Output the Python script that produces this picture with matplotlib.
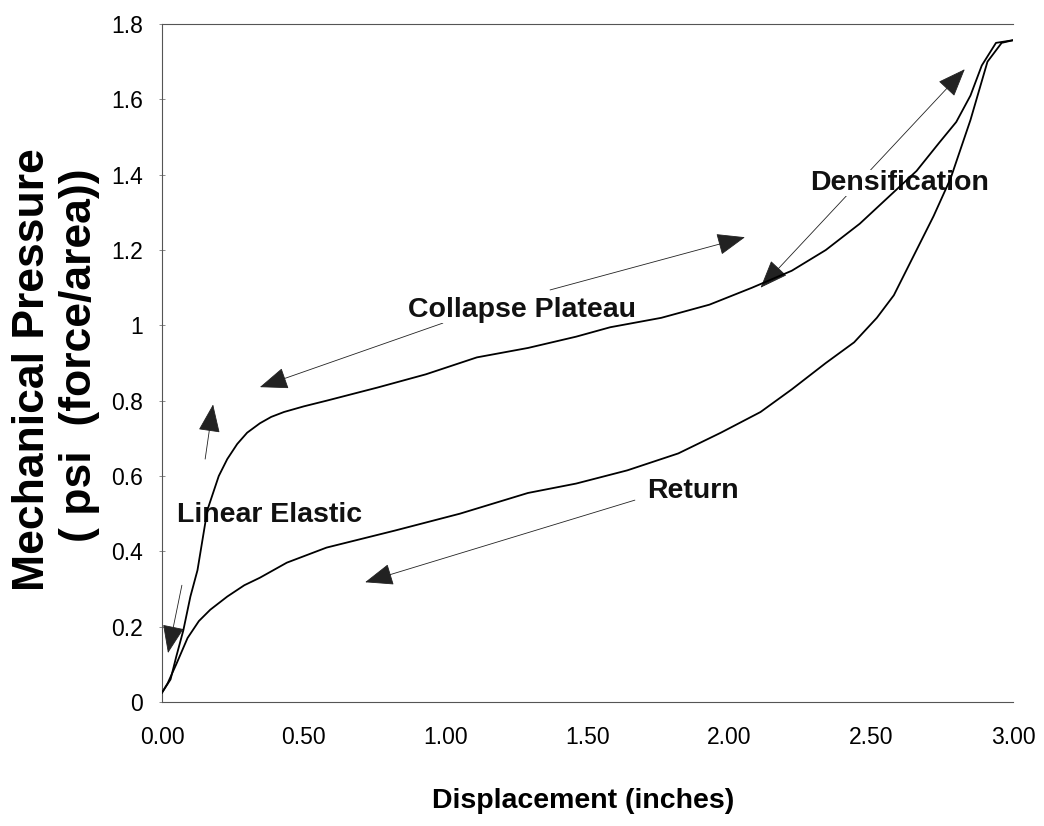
import numpy as np
import matplotlib

matplotlib.use('Agg')
import matplotlib.pyplot as plt
from matplotlib.ticker import MultipleLocator, FuncFormatter

# loading curve (compression)
load_x = [0.00, 0.03, 0.05, 0.075, 0.10, 0.125, 0.16, 0.20, 0.23, 0.265, 0.30, 0.345, 0.385,
          0.43, 0.50, 0.58, 0.76, 0.93, 1.11, 1.29, 1.46, 1.58, 1.76, 1.93, 2.08, 2.22, 2.34,
          2.46, 2.56, 2.66, 2.74, 2.80, 2.85, 2.89, 2.94, 3.00]
load_y = [0.025, 0.06, 0.12, 0.19, 0.28, 0.35, 0.51, 0.60, 0.645, 0.685, 0.715, 0.74, 0.757,
          0.77, 0.785, 0.80, 0.835, 0.87, 0.915, 0.94, 0.97, 0.995, 1.02, 1.055, 1.10, 1.145,
          1.20, 1.27, 1.34, 1.41, 1.485, 1.54, 1.61, 1.69, 1.75, 1.757]

# return curve (unloading)
ret_x = [0.00, 0.02, 0.05, 0.09, 0.13, 0.17, 0.23, 0.29, 0.345, 0.44, 0.58, 0.82, 1.05,
         1.29, 1.46, 1.64, 1.82, 1.97, 2.11, 2.22, 2.34, 2.44, 2.52, 2.58, 2.64, 2.72, 2.78,
         2.85, 2.91, 2.96, 3.00]
ret_y = [0.025, 0.05, 0.10, 0.17, 0.215, 0.245, 0.28, 0.31, 0.33, 0.37, 0.41, 0.455, 0.50,
         0.555, 0.58, 0.615, 0.66, 0.715, 0.77, 0.83, 0.90, 0.955, 1.02, 1.08, 1.17, 1.29,
         1.39, 1.545, 1.70, 1.75, 1.757]

# labels: (text, x, y) baseline-left anchor
labels = [('Linear Elastic', 0.053, 0.478),
          ('Collapse Plateau', 0.867, 1.022),
          ('Densification', 2.284, 1.359),
          ('Return', 1.71, 0.5415)]

# arrows: (start, end, double headed)
arrows = [((0.07, 0.31), (0.021, 0.13), False),
          ((0.152, 0.645), (0.18, 0.79), False),
          ((0.99, 1.006), (0.345, 0.836), False),
          ((1.368, 1.094), (2.055, 1.234), False),
          ((2.11, 1.10), (2.83, 1.68), True),
          ((1.667, 0.536), (0.716, 0.318), False)]

plt.rcParams['font.family'] = 'Liberation Sans'

fig = plt.figure(figsize=[10.44, 8.26], dpi=100)
ax = fig.add_axes([0.1552, 0.1501, 0.8151, 0.8208])

ax.plot(load_x, load_y, color='black', lw=1.3, zorder=5)
ax.plot(ret_x, ret_y, color='black', lw=1.3, zorder=5)

for (x0, y0), (x1, y1), both in arrows:
    style = '<|-|>' if both else '-|>'
    ax.annotate('', xy=(x1, y1), xytext=(x0, y0),
                arrowprops=dict(arrowstyle=style + ',head_length=1.8,head_width=0.7',
                                mutation_scale=10, color='#222222', lw=0.6,
                                shrinkA=0, shrinkB=0), zorder=2)

for txt, x, y in labels:
    ax.text(x, y, txt, ha='left', va='baseline', fontsize=20.5, fontweight='bold',
            color='#111111', zorder=3,
            bbox=dict(facecolor='white', edgecolor='none', pad=0))

ax.set_xlim(0, 3)
ax.set_ylim(0, 1.8)
ax.xaxis.set_major_locator(MultipleLocator(0.5))
ax.yaxis.set_major_locator(MultipleLocator(0.2))
ax.xaxis.set_major_formatter(FuncFormatter(lambda v, p: '%.2f' % v))
ax.yaxis.set_major_formatter(FuncFormatter(lambda v, p: '%g' % round(v, 1)))
ax.tick_params(axis='x', length=0, pad=17, labelsize=16.5)
ax.tick_params(axis='y', direction='inout', length=5, width=0.6, color='#777777',
               pad=11, labelsize=16.5)

for side in ['top', 'left', 'bottom']:
    ax.spines[side].set_color('#555555')
    ax.spines[side].set_linewidth(0.8)
ax.spines['right'].set_visible(False)

fig.text(0.5584, 1 - 808 / 826, 'Displacement (inches)', ha='center', va='baseline',
         fontsize=20.5, fontweight='bold')
fig.text(33 / 1044, 1 - 370 / 826, 'Mechanical Pressure', rotation=90, ha='center',
         va='center', fontsize=32, fontweight='bold')
fig.text(80 / 1044, 1 - 355 / 826, '( psi  (force/area))', rotation=90, ha='center',
         va='center', fontsize=32, fontweight='bold')

fig.savefig('out.png', dpi=100)
